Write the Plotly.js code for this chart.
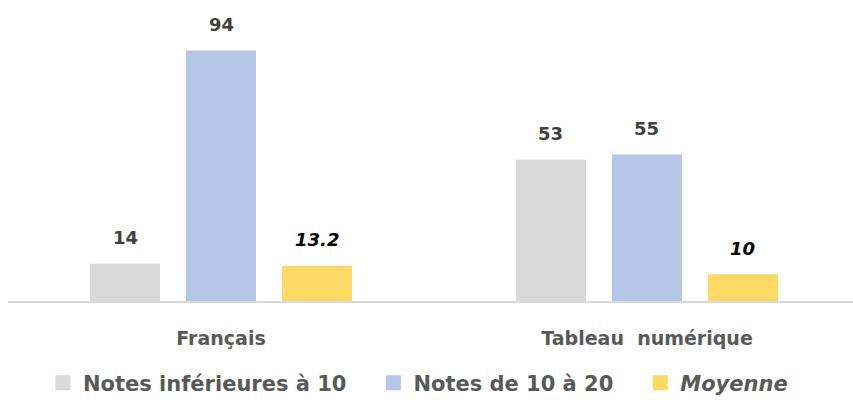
<!DOCTYPE html>
<html>
<head>
<meta charset="utf-8">
<script src="https://cdn.plot.ly/plotly-3.0.1.min.js"></script>
<style>
  html, body { margin: 0; padding: 0; background: #fff; }
  #chart { width: 853px; height: 400px; }
</style>
</head>
<body>
<div id="chart"></div>
<script>
var categories = ['Français', 'Tableau\u00a0 numérique'];
var seriesNames = ['Notes inférieures à 10\u00a0\u00a0\u00a0', 'Notes de 10 à 20\u00a0\u00a0\u00a0', '<i>Moyenne</i>'];
var belowTen = [14, 53];
var tenToTwenty = [94, 55];
var average = [13.2, 10];
var labelsBelow = ['14', '53'];
var labelsAbove = ['94', '55'];
var labelsAvg = ['13.2', '10'];

var colors = ['#d9d9d9', '#b4c7e7', '#ffd966'];
var values = [belowTen, tenToTwenty, average];
var labels = [labelsBelow, labelsAbove, labelsAvg];

var FONT = '"DejaVu Sans", sans-serif';

var data = values.map(function (v, i) {
  return {
    type: 'bar',
    x: categories,
    y: v,
    name: seriesNames[i],
    marker: {color: colors[i]},
    showlegend: false,
    hoverinfo: 'none'
  };
});

// legend-only entries with larger square keys
seriesNames.forEach(function (n, i) {
  data.push({
    type: 'scatter',
    mode: 'markers',
    x: [null],
    y: [null],
    name: n,
    marker: {symbol: 'square', size: 15, color: colors[i]},
    hoverinfo: 'none'
  });
});

// value labels above bars
var shifts = [-96, 0, 96];
var annotations = [];
values.forEach(function (v, i) {
  v.forEach(function (val, j) {
    annotations.push({
      x: categories[j],
      y: val,
      xref: 'x',
      yref: 'y',
      text: i === 2 ? '<i>' + labels[i][j] + '</i>' : labels[i][j],
      showarrow: false,
      xshift: shifts[i],
      yshift: 26,
      font: {
        family: FONT,
        size: 18,
        color: i === 2 ? '#000000' : '#404040',
        weight: 'bold'
      }
    });
  });
});

var layout = {
  width: 853,
  height: 400,
  margin: {l: 8, r: 0, t: 0, b: 99},
  paper_bgcolor: '#ffffff',
  plot_bgcolor: '#ffffff',
  barmode: 'group',
  bargap: 0.324,
  bargroupgap: 0.27,
  font: {family: FONT, color: '#595959'},
  showlegend: true,
  legend: {
    orientation: 'h',
    xref: 'container',
    yref: 'container',
    x: 0.49,
    xanchor: 'center',
    y: 0.0425,
    yanchor: 'middle',
    font: {family: FONT, size: 21, color: '#595959', weight: 'bold'},
    traceorder: 'normal'
  },
  xaxis: {
    range: [-0.5, 1.4836],
    showline: true,
    linecolor: '#d9d9d9',
    linewidth: 1.5,
    showgrid: false,
    zeroline: false,
    automargin: false,
    ticks: '',
    ticklabelstandoff: 20,
    tickfont: {family: FONT, size: 19, color: '#595959', weight: 'bold'}
  },
  yaxis: {
    range: [0, 113],
    visible: false,
    showgrid: false,
    zeroline: false
  },
  annotations: annotations
};

Plotly.newPlot('chart', data, layout, {displayModeBar: false, staticPlot: true});
</script>
</body>
</html>
